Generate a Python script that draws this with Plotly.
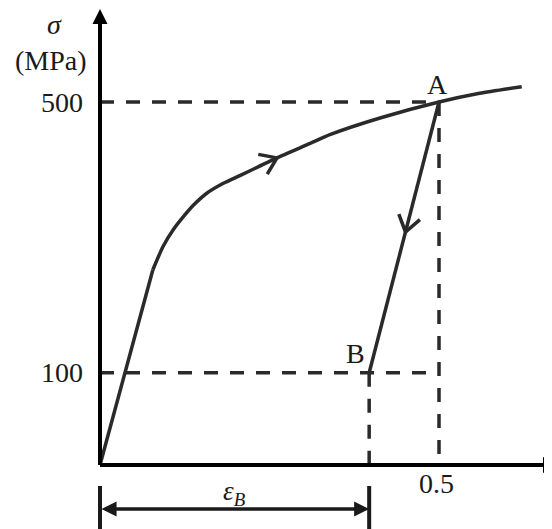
import math
import plotly.graph_objects as go

# stress-strain path (schematic drawing, not to scale)
strain_load = [0, 0.078, 0.093, 0.108, 0.123, 0.138, 0.157, 0.182, 0.207, 0.234, 0.261,
               0.310, 0.339, 0.413, 0.5, 0.560, 0.622]
stress_load = [0, 269, 301, 324, 342, 358, 374, 388, 399, 411, 423,
               443, 455, 478, 500, 512, 521]

point_A = (0.5, 500)
point_B = (0.397, 127)   # drawn height of the "100" level

y_tick_vals = [127, 500]
y_tick_text = ["100", "500"]
x_tick_vals = [0.5]
x_tick_text = ["0.5"]

W, H = 552, 529
PAGE = 8                       # page margin around the plot div
kx, ky = 678.0, 0.726          # px per strain unit / px per stress unit
ox, oy = 100, 465              # origin on the page


def px2x(px):
    return (px - ox) / kx


def px2y(py):
    return (oy - py) / ky


x_range = [px2x(PAGE), px2x(PAGE + W)]
y_range = [px2y(PAGE + H), px2y(PAGE)]

INK = "#2a2a2a"
TXT = "#1a1a1a"
FONT = "Liberation Serif"


def chevron(tip, back, length=19, spread=35):
    """open arrow head (two wings) at tip, back = direction pointing away from travel"""
    ang = math.atan2(back[1] * ky, back[0] * kx)
    xs, ys = [], []
    for s in (spread, None, -spread):
        if s is None:
            xs.append(tip[0]); ys.append(tip[1])
            continue
        a = ang + math.radians(s)
        xs.append(tip[0] + length * math.cos(a) / kx)
        ys.append(tip[1] + length * math.sin(a) / ky)
    return xs, ys


def paper(px, py):
    return (px - PAGE) / W, 1 - (py - PAGE) / H


fig = go.Figure()

dash = "14px,12px"
# dashed guides
fig.add_trace(go.Scatter(x=[0, point_A[0]], y=[point_A[1]] * 2, mode="lines",
                         line=dict(color=INK, width=3.5, dash=dash)))
fig.add_trace(go.Scatter(x=[point_A[0]] * 2, y=[point_A[1], 0], mode="lines",
                         line=dict(color=INK, width=3.5, dash=dash)))
fig.add_trace(go.Scatter(x=[0, point_A[0]], y=[point_B[1]] * 2, mode="lines",
                         line=dict(color=INK, width=3.5, dash=dash)))
fig.add_trace(go.Scatter(x=[point_B[0]] * 2, y=[point_B[1], 0], mode="lines",
                         line=dict(color=INK, width=3.5, dash=dash)))

# loading: elastic part then hardening curve
fig.add_trace(go.Scatter(x=strain_load[:2], y=stress_load[:2], mode="lines",
                         line=dict(color=INK, width=3.5)))
fig.add_trace(go.Scatter(x=strain_load[1:], y=stress_load[1:], mode="lines",
                         line=dict(color=INK, width=3.5, shape="spline", smoothing=0.6)))
# unloading A -> B
fig.add_trace(go.Scatter(x=[point_A[0], point_B[0]], y=[point_A[1], point_B[1]], mode="lines",
                         line=dict(color=INK, width=3.5)))

# direction marks
i = strain_load.index(0.261)
cx, cy = chevron((strain_load[i], stress_load[i]),
                 (strain_load[i - 1] - strain_load[i + 1], stress_load[i - 1] - stress_load[i + 1]))
fig.add_trace(go.Scatter(x=cx, y=cy, mode="lines", line=dict(color=INK, width=3.5)))
t = 0.48
tip = (point_A[0] + t * (point_B[0] - point_A[0]), point_A[1] + t * (point_B[1] - point_A[1]))
cx, cy = chevron(tip, (point_A[0] - point_B[0], point_A[1] - point_B[1]))
fig.add_trace(go.Scatter(x=cx, y=cy, mode="lines", line=dict(color=INK, width=3.5)))

ann = []
# axes with arrow heads
ann.append(dict(x=0, y=px2y(9), ax=0, ay=0, axref="x", ayref="y", text="", showarrow=True,
                arrowhead=2, arrowwidth=4, arrowsize=0.75, arrowcolor="black"))
ann.append(dict(x=px2x(559), y=0, ax=0, ay=0, axref="x", ayref="y", text="", showarrow=True,
                arrowhead=2, arrowwidth=4, arrowsize=0.8, arrowcolor="black"))

# epsilon_B dimension arrow
dim_y = px2y(509)
ann.append(dict(x=point_B[0], y=dim_y, ax=0, ay=dim_y, axref="x", ayref="y", text="",
                showarrow=True, arrowside="end+start", arrowhead=2, startarrowhead=2,
                arrowwidth=3.5, arrowsize=0.86, startarrowsize=0.86, arrowcolor=TXT))
ann.append(dict(x=point_B[0] / 2, y=px2y(493), text="<i>ε</i><sub><i>B</i></sub>", showarrow=False,
                font=dict(family=FONT, size=27, color=TXT)))

# tick labels
for v, s in zip(y_tick_vals, y_tick_text):
    ann.append(dict(x=px2x(85), y=v, text=s, showarrow=False, xanchor="right",
                    font=dict(family=FONT, size=28, color=TXT)))
for v, s in zip(x_tick_vals, x_tick_text):
    ann.append(dict(x=v, y=px2y(483), text=s, showarrow=False, xshift=-3,
                    font=dict(family=FONT, size=28, color=TXT)))

# axis names and point labels
px_, py_ = paper(54, 25)
ann.append(dict(x=px_, y=py_, xref="paper", yref="paper", text="<i>σ</i>", xanchor="center",
                yanchor="middle", showarrow=False, font=dict(family=FONT, size=28, color=TXT)))
px_, py_ = paper(51, 61)
ann.append(dict(x=px_, y=py_, xref="paper", yref="paper", text="(MPa)", xanchor="center",
                yanchor="middle", showarrow=False, font=dict(family=FONT, size=28, color=TXT)))
px_, py_ = paper(542, 490)
ann.append(dict(x=px_, y=py_, xref="paper", yref="paper", text="<i>ε</i>", xanchor="left",
                yanchor="middle", showarrow=False, font=dict(family=FONT, size=28, color=TXT)))
ann.append(dict(x=point_A[0], y=point_A[1], text="A", showarrow=False, xshift=-2, yshift=18,
                font=dict(family=FONT, size=28, color=TXT)))
ann.append(dict(x=point_B[0], y=point_B[1], text="B", showarrow=False, xshift=-14, yshift=19,
                font=dict(family=FONT, size=28, color=TXT)))

shapes = []
for xv in (0, point_B[0]):
    shapes.append(dict(type="line", x0=xv, x1=xv, y0=px2y(486), y1=px2y(540),
                       line=dict(color=TXT, width=4)))
# axis lines
shapes.append(dict(type="line", x0=0, x1=0, y0=0, y1=px2y(20), line=dict(color="black", width=4)))
shapes.append(dict(type="line", x0=0, x1=px2x(548), y0=0, y1=0, line=dict(color="black", width=4)))

fig.update_layout(
    width=W, height=H, margin=dict(l=0, r=0, t=0, b=0),
    paper_bgcolor="white", plot_bgcolor="white", showlegend=False,
    xaxis=dict(range=x_range, visible=False, fixedrange=True),
    yaxis=dict(range=y_range, visible=False, fixedrange=True),
    annotations=ann, shapes=shapes,
)

fig.write_html("out.html")
